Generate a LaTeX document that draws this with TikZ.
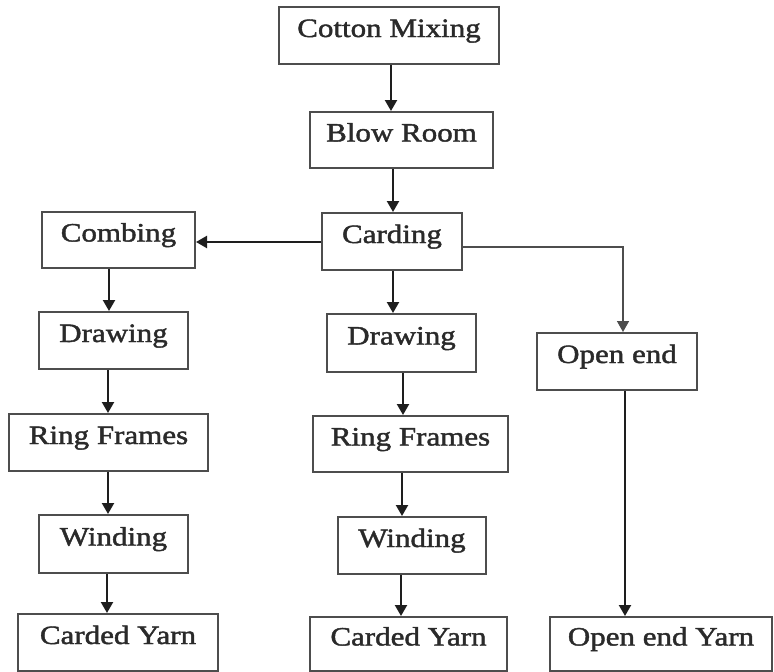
\documentclass[tikz,border=0pt]{standalone}
\usepackage{fontspec}
\setmainfont{Liberation Serif}[FakeStretch=1.17,FakeBold=1.6]
\usetikzlibrary{arrows.meta}
\definecolor{boxc}{HTML}{4D4D4D}
\definecolor{txtc}{HTML}{2A2A2A}
\definecolor{arrc}{HTML}{1E1E1E}
\begin{document}
\begin{tikzpicture}[x=1pt,y=-1pt,
  box/.style={draw=boxc, line width=2pt, fill=white, inner sep=0pt,
    text=txtc, font=\fontsize{26.5}{30}\selectfont, text height=18pt, text depth=15pt},
  arr/.style={line width=2.2pt, draw=arrc, -{Triangle[length=11pt,width=12pt]}},
  thinarr/.style={arr, line width=1.5pt, draw=boxc}]
\useasboundingbox (0,0) rectangle (774,672);
\fill[white] (0,0) rectangle (774,672);
% top column
\node[box, minimum width=220pt, minimum height=57pt] (cm) at (389,35.5) {Cotton Mixing};
\node[box, minimum width=183pt, minimum height=56pt] (br) at (401.5,140) {Blow Room};
\node[box, minimum width=140pt, minimum height=57pt] (ca) at (392,241.5) {Carding};
% left column
\node[box, minimum width=153pt, minimum height=56pt] (co) at (118.5,240) {Combing};
\node[box, minimum width=149pt, minimum height=57pt] (dl) at (113.5,340.5) {Drawing};
\node[box, minimum width=199pt, minimum height=57pt] (rl) at (108.5,442.5) {Ring Frames};
\node[box, minimum width=149pt, minimum height=58pt] (wl) at (113.5,544) {Winding};
\node[box, minimum width=200pt, minimum height=57pt] (yl) at (118,642.5) {Carded Yarn};
% middle column
\node[box, minimum width=149pt, minimum height=58pt] (dm) at (401.5,343) {Drawing};
\node[box, minimum width=195pt, minimum height=56pt] (rm) at (410.5,444) {Ring Frames};
\node[box, minimum width=148pt, minimum height=57pt] (wm) at (412,545.5) {Winding};
\node[box, minimum width=197pt, minimum height=54pt] (ym) at (408.5,644) {Carded Yarn};
% right column
\node[box, minimum width=160pt, minimum height=57pt] (oe) at (617,361.5) {Open end};
\node[box, minimum width=222pt, minimum height=54pt] (oy) at (661,644) {Open end Yarn};
% connector guides
\coordinate (x391) at (391,0);
\coordinate (x393) at (393,0);
\coordinate (x109) at (109,0);
\coordinate (x108) at (108,0);
\coordinate (x107) at (107,0);
\coordinate (x403) at (403,0);
\coordinate (x402) at (402,0);
\coordinate (x401) at (401,0);
\coordinate (x623) at (623,0);
\coordinate (x625) at (625,0);
\coordinate (y242) at (0,242);
\coordinate (y247) at (0,247);
% connectors
\draw[arr] (cm.south -| x391) -- (br.north -| x391);
\draw[arr] (br.south -| x393) -- (ca.north -| x393);
\draw[arr] (ca.west |- y242) -- (co.east |- y242);
\draw[arr] (ca.south -| x393) -- (dm.north -| x393);
\draw[thinarr] (ca.east |- y247) -| (oe.north -| x623);
\draw[arr] (co.south -| x109) -- (dl.north -| x109);
\draw[arr] (dl.south -| x108) -- (rl.north -| x108);
\draw[arr] (rl.south -| x108) -- (wl.north -| x108);
\draw[arr] (wl.south -| x107) -- (yl.north -| x107);
\draw[arr] (dm.south -| x403) -- (rm.north -| x403);
\draw[arr] (rm.south -| x402) -- (wm.north -| x402);
\draw[arr] (wm.south -| x401) -- (ym.north -| x401);
\draw[arr] (oe.south -| x625) -- (oy.north -| x625);
\end{tikzpicture}
\end{document}
